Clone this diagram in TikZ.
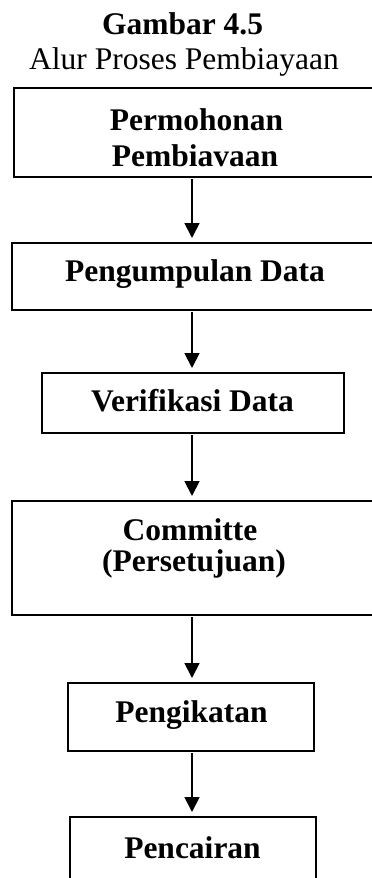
\documentclass[tikz,border=0pt]{standalone}
\usepackage{fontspec}
\setmainfont{Liberation Serif}
\usetikzlibrary{arrows.meta}
\begin{document}
\begin{tikzpicture}[x=1pt,y=-1pt,
  boxstyle/.style={draw,line width=1.8pt,rectangle,inner sep=0pt,outer sep=0pt},
  txt/.style={anchor=base,inner sep=0pt,font=\fontsize{31.5}{37}\selectfont\bfseries},
  ttl/.style={anchor=base,inner sep=0pt,font=\fontsize{31.5}{37}\selectfont},
  conn/.style={line width=1.8pt,-{Triangle[width=15pt,length=15pt]},shorten <=2pt,shorten >=5pt}]
\useasboundingbox (0,0) rectangle (372,878);
\clip (0,0) rectangle (372,878);
\fill[white] (0,0) rectangle (372,878);
% title
\node[txt] (t1) at (182.5,34) {Gambar 4.5};
\node[ttl] (t2) at (184,69.5) {Alur Proses Pembiayaan};
% boxes
\node[boxstyle,minimum width=364pt,minimum height=89pt] (b1) at (196,132.5) {};
\node[boxstyle,minimum width=366pt,minimum height=67pt] (b2) at (195,276.5) {};
\node[boxstyle,minimum width=302pt,minimum height=60pt] (b3) at (193,403) {};
\node[boxstyle,minimum width=366pt,minimum height=114pt] (b4) at (195,558) {};
\node[boxstyle,minimum width=246pt,minimum height=68pt] (b5) at (191,717) {};
\node[boxstyle,minimum width=246pt,minimum height=83pt] (b6) at (193,858.5) {};
% texts
\node[txt] (l1a) at (196.5,130) {Permohonan};
\node[txt] (l1b) at (195,166.7) {Pembiavaan};
\node[txt] (l2) at (195,281.7) {Pengumpulan Data};
\node[txt] (l3) at (192.5,411.7) {Verifikasi Data};
\node[txt] (l4a) at (190,540.7) {Committe};
\node[txt] (l4b) at (194,571.7) {(Persetujuan)};
\node[txt] (l5) at (191.5,722.7) {Pengikatan};
\node[txt] (l6) at (192.5,858.3) {Pencairan};
% connectors
\coordinate (ax) at (192,0);
\draw[conn] (b1.south -| ax) -- (b2.north -| ax);
\draw[conn] (b2.south -| ax) -- (b3.north -| ax);
\draw[conn] (b3.south -| ax) -- (b4.north -| ax);
\draw[conn] (b4.south -| ax) -- (b5.north -| ax);
\draw[conn] (b5.south -| ax) -- (b6.north -| ax);
\end{tikzpicture}
\end{document}
